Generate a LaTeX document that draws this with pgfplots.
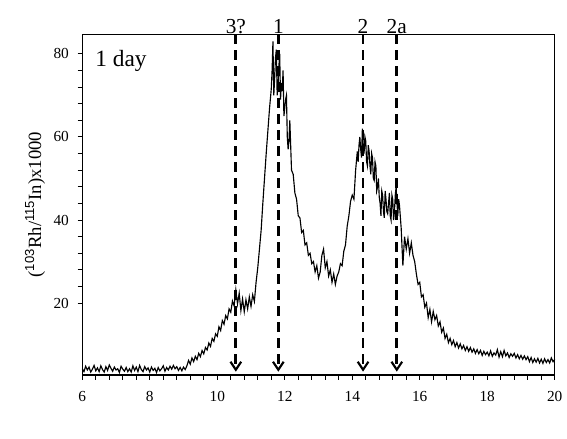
\documentclass[border=0pt]{standalone}
\usepackage{fontspec}
\setmainfont{Liberation Serif}
\setsansfont{Liberation Sans}
\usepackage{pgfplots}
\pgfplotsset{compat=1.18}
\usetikzlibrary{arrows.meta}
\begin{document}
\begin{tikzpicture}
\begin{axis}[name=ax, scale only axis, width=354.3pt, height=255.5pt,
 xmin=6, xmax=20, ymin=2.7, ymax=84.7,
 xtick={6,8,...,20}, ytick={20,40,60,80},
 minor x tick num=4, minor y tick num=4,
 tick align=outside, xtick pos=left, ytick pos=left,
 major tick length=3.5pt, minor tick length=3.5pt,
 tick style={black, line width=0.6pt},
 axis line style={black, line width=0.8pt},
 /pgf/number format/assume math mode=true,
 tick label style={font=\fontsize{11.5}{13}\selectfont},
 xticklabel shift=5pt, yticklabel shift=3pt,
 ylabel={(\textsuperscript{\sffamily 103}Rh/\textsuperscript{\sffamily 115}In)x1000},
 ylabel style={at={(axis description cs:-0.1,0.5)}, anchor=center, font=\fontsize{14}{16}\selectfont},
 clip=false]
\addplot[black, line width=0.85pt, mark=none] coordinates {
(6.00,4.2)(6.05,3.5)(6.10,4.8)(6.15,3.9)(6.20,4.6)(6.25,3.4)(6.30,4.1)(6.35,5.0)(6.40,3.7)(6.45,4.4)
(6.50,3.5)(6.55,4.9)(6.60,4.0)(6.65,3.4)(6.70,4.7)(6.75,3.8)(6.80,5.1)(6.85,4.3)(6.90,3.6)(6.95,4.6)
(7.00,3.9)(7.05,4.2)(7.10,3.3)(7.15,4.8)(7.20,4.1)(7.25,3.6)(7.30,4.5)(7.35,3.5)(7.40,4.2)(7.45,3.4)
(7.50,4.9)(7.55,3.8)(7.60,4.6)(7.65,3.5)(7.70,5.0)(7.75,4.0)(7.80,3.5)(7.85,4.7)(7.90,3.9)(7.95,4.4)
(8.00,3.4)(8.05,4.6)(8.10,3.8)(8.15,4.3)(8.20,3.3)(8.25,4.5)(8.30,3.7)(8.35,4.2)(8.40,4.9)(8.45,3.6)
(8.50,4.5)(8.55,3.9)(8.60,4.8)(8.65,4.1)(8.70,5.0)(8.75,4.2)(8.80,4.7)(8.85,3.8)(8.90,4.5)(8.95,3.7)
(9.00,4.6)(9.05,4.0)(9.10,4.9)(9.15,6.2)(9.20,5.3)(9.25,6.8)(9.30,5.9)(9.35,7.2)(9.40,6.4)(9.45,7.9)
(9.50,7.1)(9.55,8.6)(9.60,7.8)(9.65,9.3)(9.70,8.7)(9.75,10.4)(9.80,9.6)(9.85,11.5)(9.90,10.8)(9.95,12.6)
(10.00,12.0)(10.05,14.3)(10.10,13.4)(10.15,15.8)(10.20,14.9)(10.25,17.0)(10.30,16.2)(10.35,18.6)(10.40,17.8)(10.45,20.5)
(10.50,19.3)(10.55,23.2)(10.60,19.8)(10.65,22.4)(10.70,18.2)(10.75,21.0)(10.80,17.9)(10.85,20.8)(10.90,18.6)(10.95,21.5)
(11.00,19.2)(11.05,22.0)(11.10,20.4)(11.15,25.0)(11.20,28.5)(11.25,33.0)(11.30,37.5)(11.35,44.0)(11.40,50.0)(11.45,56.0)
(11.50,61.5)(11.55,67.0)(11.60,71.5)(11.625,76)(11.65,83.0)(11.675,70)(11.70,74.0)(11.725,79)(11.75,81.0)(11.775,70)
(11.80,72.0)(11.825,77)(11.85,80.0)(11.875,69)(11.90,73.0)(11.925,71)(11.95,76.0)(11.975,65)
(12.00,67.0)(12.025,69)(12.05,70.0)(12.075,60)(12.10,57.0)(12.125,59)(12.15,64.0)(12.20,52.0)(12.25,51.0)(12.30,46.5)(12.35,45.0)(12.40,41.0)(12.45,40.5)
(12.50,37.0)(12.55,37.5)(12.60,34.0)(12.65,34.5)(12.70,31.5)(12.75,32.0)(12.80,29.5)(12.85,30.0)(12.90,27.5)(12.95,29.0)
(13.00,26.0)(13.05,27.5)(13.10,31.5)(13.15,33.0)(13.20,28.5)(13.25,30.0)(13.30,26.5)(13.35,28.0)(13.40,25.0)(13.45,27.0)
(13.50,24.5)(13.55,26.5)(13.60,27.5)(13.65,29.5)(13.70,29.0)(13.75,32.5)(13.80,34.0)(13.85,38.5)(13.90,41.0)(13.95,44.5)
(14.00,46.0)(14.05,45.0)(14.10,52.0)(14.15,56.5)(14.175,54)(14.20,58.0)(14.225,60)(14.25,57.0)(14.275,55)(14.30,62.0)
(14.325,58)(14.35,56.0)(14.375,60)(14.40,59.0)(14.425,54)(14.45,53.0)(14.475,58)
(14.50,56.5)(14.525,53)(14.55,51.0)(14.575,56)(14.60,55.0)(14.625,50)(14.65,49.5)(14.675,54)(14.70,53.0)(14.725,47)
(14.75,48.0)(14.775,50)(14.80,45.5)(14.825,44)(14.85,41.0)(14.875,47)(14.90,46.0)(14.925,42)(14.95,40.5)(14.975,47)
(15.00,45.0)(15.025,42)(15.05,41.5)(15.075,44)(15.10,46.5)(15.125,41)(15.15,40.0)(15.175,46)(15.20,45.0)(15.225,40)
(15.25,42.0)(15.275,46)(15.30,48.0)(15.325,44)(15.35,41.0)(15.375,45)(15.40,43.5)(15.45,38.0)
(15.50,29.0)(15.55,36.0)(15.60,33.0)(15.65,35.5)(15.70,32.0)(15.75,34.5)(15.80,31.5)(15.85,30.0)(15.90,27.0)(15.95,24.5)
(16.00,25.0)(16.05,21.5)(16.10,22.0)(16.15,19.0)(16.20,20.0)(16.25,16.5)(16.30,18.5)(16.35,15.5)(16.40,18.0)(16.45,16.0)
(16.50,17.0)(16.55,14.5)(16.60,15.5)(16.65,13.0)(16.70,14.0)(16.75,11.5)(16.80,12.5)(16.85,10.5)(16.90,11.5)(16.95,10.0)
(17.00,11.0)(17.05,9.5)(17.10,10.5)(17.15,9.2)(17.20,10.2)(17.25,9.0)(17.30,9.8)(17.35,8.6)(17.40,9.5)(17.45,8.4)
(17.50,9.3)(17.55,8.2)(17.60,9.0)(17.65,7.9)(17.70,8.8)(17.75,7.8)(17.80,8.6)(17.85,7.4)(17.90,8.4)(17.95,7.6)
(18.00,8.2)(18.05,7.3)(18.10,8.5)(18.15,7.2)(18.20,8.0)(18.25,7.5)(18.30,8.8)(18.35,7.0)(18.40,8.3)(18.45,7.1)
(18.50,8.6)(18.55,7.3)(18.60,8.0)(18.65,6.9)(18.70,7.8)(18.75,7.2)(18.80,7.9)(18.85,6.8)(18.90,7.6)(18.95,6.6)
(19.00,7.4)(19.05,6.5)(19.10,7.3)(19.15,6.4)(19.20,7.1)(19.25,5.9)(19.30,6.9)(19.35,5.7)(19.40,6.6)(19.45,5.8)
(19.50,6.7)(19.55,5.6)(19.60,6.5)(19.65,5.5)(19.70,6.6)(19.75,5.7)(19.80,6.4)(19.85,5.6)(19.90,6.8)(19.95,5.9)
(20.00,6.5)
};
\draw[line width=2pt, dash pattern=on 7pt off 5pt, -{Straight Barb[length=6pt,width=8pt,line width=1.6pt]}] (axis cs:10.55,84.7) -- (axis cs:10.55,3.5);
\draw[line width=2pt, dash pattern=on 7pt off 5pt, -{Straight Barb[length=6pt,width=8pt,line width=1.6pt]}] (axis cs:11.81,84.7) -- (axis cs:11.81,3.5);
\draw[line width=2pt, dash pattern=on 7pt off 5pt, -{Straight Barb[length=6pt,width=8pt,line width=1.6pt]}] (axis cs:14.32,84.7) -- (axis cs:14.32,3.5);
\draw[line width=2pt, dash pattern=on 7pt off 5pt, -{Straight Barb[length=6pt,width=8pt,line width=1.6pt]}] (axis cs:15.32,84.7) -- (axis cs:15.32,3.5);
\node[anchor=base, inner sep=0pt, font=\fontsize{16}{18}\selectfont] at (axis cs:10.55,84.9) {3?};
\node[anchor=base, inner sep=0pt, font=\fontsize{16}{18}\selectfont] at (axis cs:11.81,84.9) {1};
\node[anchor=base, inner sep=0pt, font=\fontsize{16}{18}\selectfont] at (axis cs:14.32,84.9) {2};
\node[anchor=base, inner sep=0pt, font=\fontsize{16}{18}\selectfont] at (axis cs:15.32,84.9) {2a};
\node[anchor=base west, inner sep=0pt, font=\fontsize{17.5}{20}\selectfont] at (axis cs:6.38,76.9) {1 day};
\end{axis}
\pgfresetboundingbox
\path ([xshift=-61.7pt,yshift=-48pt]ax.south west) rectangle ([xshift=9.2pt,yshift=25.7pt]ax.north east);
\end{tikzpicture}
\end{document}
